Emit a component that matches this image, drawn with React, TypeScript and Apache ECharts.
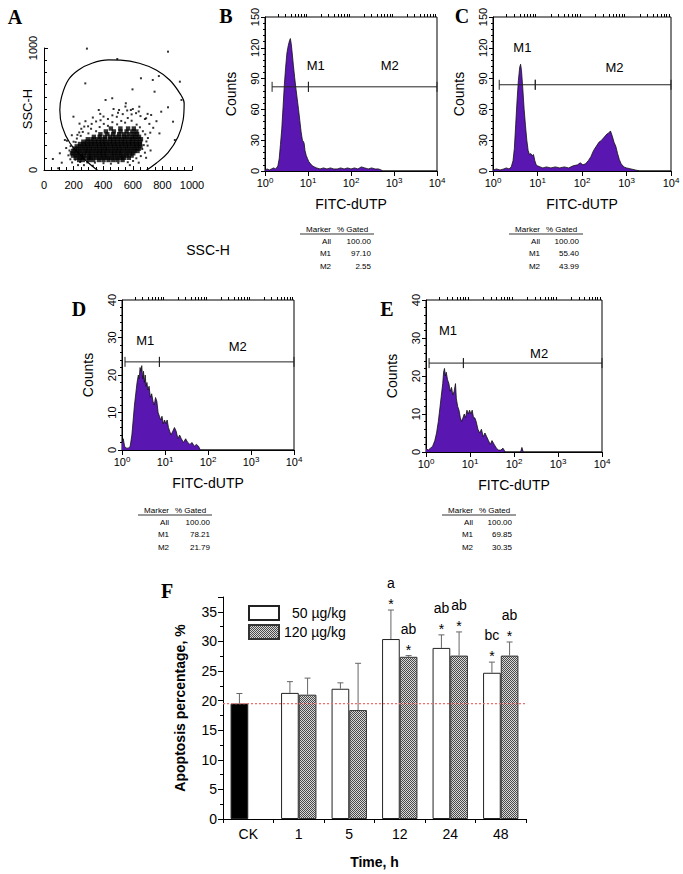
import React, { useEffect, useRef } from 'react';
import * as echarts from 'echarts';

const SANS = "'Liberation Sans', Arial, Helvetica, sans-serif";
const SERIF = "'Liberation Serif', 'Times New Roman', serif";

// ---------------- Panel A : SSC-H scatter ----------------
const scatterCoreRows: [number, number[]][] = [
  [82, [238, 262, 305, 333, 371, 402, 436, 468, 497, 531]],
  [100, [214, 243, 268, 297, 318, 349, 377, 406, 431, 458, 489, 516, 541, 573]],
  [118, [196, 222, 249, 271, 302, 326, 351, 379, 403, 428, 457, 482, 509, 534, 561, 592]],
  [137, [189, 216, 241, 268, 293, 317, 346, 372, 396, 421, 449, 474, 498, 523, 552, 578, 603]],
  [156, [197, 223, 247, 276, 299, 324, 352, 377, 401, 427, 452, 478, 503, 528, 556, 583, 611, 632]],
  [175, [206, 231, 258, 283, 308, 333, 358, 386, 411, 433, 461, 486, 511, 537, 562, 589, 614, 641]],
  [194, [221, 246, 272, 297, 322, 349, 373, 398, 424, 451, 476, 502, 526, 553, 577, 604, 628, 652]],
  [213, [243, 269, 293, 318, 344, 371, 396, 419, 446, 472, 497, 523, 548, 574, 598, 623, 647]],
  [232, [266, 291, 318, 343, 368, 393, 417, 444, 469, 494, 521, 546, 571, 596, 622, 649]],
  [252, [296, 327, 356, 386, 414, 446, 471, 498, 524, 549, 577, 601, 627, 655]],
  [272, [337, 376, 412, 448, 479, 507, 538, 563, 592, 616, 642]],
  [293, [381, 428, 467, 508, 541, 572, 603, 629]],
  [316, [418, 472, 517, 558, 597, 624]],
  [340, [452, 516, 568, 607]],
];
const scatterHalo: number[][] = [
  [165, 120], [178, 88], [190, 62], [172, 160], [180, 196], [200, 232], [222, 258], [188, 285], [248, 280], [262, 312],
  [300, 300], [318, 338], [352, 318], [376, 352], [404, 378], [432, 362], [462, 392], [494, 374], [522, 402], [548, 388],
  [566, 426], [592, 404], [626, 372], [648, 350], [668, 318], [684, 292], [702, 262], [692, 234], [674, 204], [664, 172],
  [682, 142], [654, 114], [624, 96], [602, 74], [566, 64], [502, 58], [452, 52], [402, 56], [344, 60], [292, 62],
  [244, 66], [212, 84], [718, 306], [738, 346], [712, 378], [682, 418], [652, 442], [622, 466], [592, 456], [562, 488],
  [532, 458], [492, 436], [462, 448], [432, 418], [402, 438], [382, 408], [352, 398], [322, 378], [298, 358], [272, 356],
  [252, 338], [238, 308], [226, 288], [214, 228], [150, 180], [155, 240], [700, 200], [720, 160], [690, 100], [640, 60],
  [580, 40], [330, 35], [270, 40], [230, 40], [760, 400], [780, 300], [600, 500], [640, 480], [700, 460], [500, 470],
  [550, 520], [470, 500], [380, 460], [330, 430], [280, 400], [240, 380],
];
const scatterSparse: number[][] = [
  [290, 995], [838, 970], [495, 910], [918, 724], [735, 738], [776, 770], [655, 752], [598, 661], [747, 642], [279, 710],
  [416, 574], [199, 437], [872, 396], [838, 514], [792, 478], [724, 451], [690, 424], [884, 246], [929, 574], [107, 137],
  [96, 14], [141, 246], [461, 588], [553, 547], [644, 519], [370, 492], [507, 492], [587, 492], [120, 60], [60, 90],
];
const gateOutline: number[][] = [
  [380, -20], [279, 82], [176, 219], [123, 355], [107, 492], [119, 601], [164, 738], [233, 820], [324, 875], [438, 902],
  [518, 900], [644, 875], [758, 820], [849, 738], [918, 628], [947, 546], [940, 410], [906, 273], [838, 143], [758, 55],
  [670, -20],
];

// ---------------- Histograms (x = log10 FITC-dUTP, y = counts) ----------------
const histBLog = [0, 0.05, 0.1, 0.15, 0.2, 0.25, 0.3, 0.33, 0.36, 0.39, 0.42, 0.45, 0.48, 0.51, 0.54, 0.57, 0.59, 0.61, 0.63, 0.66, 0.69, 0.72, 0.75, 0.78, 0.81, 0.84, 0.87, 0.89, 0.91, 0.93, 0.96, 0.99, 1.02, 1.06, 1.1, 1.15, 1.2, 1.28, 1.36, 1.44, 1.52, 1.6, 1.68, 1.76, 1.84, 1.92, 2.0, 2.08, 2.16, 2.24, 2.32, 2.4, 2.48, 2.56, 2.64, 2.7, 2.74, 4];
const histBCount = [1, 2, 1, 2, 3, 2, 5, 12, 26, 41, 62, 84, 101, 115, 122, 127, 129, 124, 116, 103, 91, 80, 70, 60, 49, 38, 30, 29, 27, 20, 15, 12, 9, 7, 5, 4, 3, 2, 3, 2, 3, 2, 2, 3, 2, 3, 2, 3, 2, 4, 3, 2, 3, 2, 2, 1, 0, 0];
const histCLog = [0, 0.08, 0.16, 0.24, 0.3, 0.36, 0.41, 0.45, 0.48, 0.51, 0.54, 0.57, 0.6, 0.62, 0.64, 0.67, 0.7, 0.73, 0.76, 0.79, 0.82, 0.85, 0.88, 0.91, 0.94, 0.97, 1.0, 1.06, 1.12, 1.2, 1.3, 1.4, 1.5, 1.6, 1.7, 1.8, 1.9, 1.96, 2.02, 2.08, 2.14, 2.2, 2.26, 2.32, 2.38, 2.44, 2.5, 2.56, 2.6, 2.64, 2.68, 2.72, 2.76, 2.8, 2.84, 2.88, 2.94, 3.0, 3.1, 3.2, 3.3, 4];
const histCCount = [1, 2, 1, 2, 3, 2, 4, 10, 22, 45, 68, 88, 101, 104, 98, 80, 60, 44, 30, 20, 16, 17, 15, 16, 10, 6, 5, 4, 3, 4, 3, 4, 3, 4, 3, 5, 6, 8, 6, 7, 10, 14, 20, 24, 28, 30, 33, 36, 37, 39, 34, 28, 24, 17, 11, 7, 4, 3, 2, 1, 0, 0];
const histDLog = [0, 0.03, 0.06, 0.1, 0.15, 0.19, 0.23, 0.26, 0.29, 0.32, 0.35, 0.38, 0.4, 0.42, 0.44, 0.46, 0.48, 0.5, 0.52, 0.54, 0.56, 0.58, 0.6, 0.63, 0.66, 0.69, 0.72, 0.75, 0.78, 0.81, 0.84, 0.87, 0.9, 0.93, 0.96, 0.99, 1.02, 1.05, 1.08, 1.11, 1.14, 1.18, 1.22, 1.26, 1.3, 1.34, 1.38, 1.43, 1.48, 1.53, 1.58, 1.63, 1.68, 1.73, 1.78, 1.82, 4];
const histDCount = [2, 3, 1, 0.5, 0.5, 1, 4, 8, 12, 15, 18, 20, 19, 22, 21, 22.5, 19, 21, 18, 20, 17, 18, 16, 17, 14, 15, 13, 12, 14, 13, 10, 9, 8, 9, 7, 8, 7, 8, 6, 5, 4, 5, 6, 5, 3, 4, 3, 2, 3, 2, 1.5, 2, 1, 1.5, 1, 0, 0];
const histELog = [0, 0.05, 0.1, 0.15, 0.2, 0.24, 0.28, 0.32, 0.35, 0.38, 0.4, 0.42, 0.44, 0.46, 0.49, 0.52, 0.55, 0.58, 0.61, 0.64, 0.67, 0.69, 0.72, 0.75, 0.78, 0.81, 0.84, 0.87, 0.9, 0.93, 0.96, 0.99, 1.02, 1.05, 1.08, 1.11, 1.14, 1.18, 1.22, 1.26, 1.3, 1.34, 1.38, 1.42, 1.46, 1.5, 1.55, 1.6, 1.65, 1.7, 1.75, 1.8, 2.15, 2.18, 2.21, 4];
const histECount = [1, 0.5, 1, 1.5, 3, 5, 8, 12, 15, 18, 21, 22, 20, 21, 19, 18, 16, 17, 15, 16, 18, 14, 12, 11, 9, 8, 9, 10, 9, 11, 10, 11, 10, 11, 9, 9, 8, 6, 5, 6, 4, 5, 4, 3, 2, 3, 2, 1, 0.5, 0.5, 1, 0, 0, 1.2, 0, 0];

const histTickLabels = ['0', '1', '2', '3', '4'];
const markerNames = ['M1', 'M2'];
// [start(log), end(log), level(counts), labelX(log), labelY(counts)]
const markersB = [[0.165, 1.01, 82, 1.18, 103], [1.01, 4, 82, 2.9, 103]];
const markersC = [[0.14, 0.95, 84, 0.66, 120], [0.95, 4, 84, 2.73, 101]];
const markersD = [[0.07, 0.87, 23.5, 0.54, 29.3], [0.87, 4, 23.5, 2.69, 27.5]];
const markersE = [[0.07, 0.85, 23.4, 0.5, 32], [0.85, 4, 23.4, 2.57, 25.8]];

const tableHeader = ['Marker', '% Gated'];
const tableBRows = [['All', '100.00'], ['M1', '97.10'], ['M2', '2.55']];
const tableCRows = [['All', '100.00'], ['M1', '55.40'], ['M2', '43.99']];
const tableDRows = [['All', '100.00'], ['M1', '78.21'], ['M2', '21.79']];
const tableERows = [['All', '100.00'], ['M1', '69.85'], ['M2', '30.35']];

// ---------------- Panel F ----------------
const timeCats = ['CK', '1', '5', '12', '24', '48'];
const mean50: (number | null)[] = [19.5, 21.3, 22.0, 30.4, 28.9, 24.7];
const sd50: (number | null)[] = [1.7, 1.9, 1.0, 4.9, 2.2, 1.8];
const mean120: (number | null)[] = [null, 21.0, 18.4, 27.4, 27.6, 27.6];
const sd120: (number | null)[] = [null, 2.8, 7.9, 0.2, 4.0, 2.3];
const star50 = ['', '', '', '*', '*', '*'];
const letter50 = ['', '', '', 'a', 'ab', 'bc'];
const star120 = ['', '', '', '*', '*', '*'];
const letter120 = ['', '', '', 'ab', 'ab', 'ab'];
const seriesNames = ['50 µg/kg', '120 µg/kg'];

const HIST_FILL = '#5a16b0';

function buildOption() {
  const hatch =
    "data:image/svg+xml;utf8," +
    encodeURIComponent(
      "<svg xmlns='http://www.w3.org/2000/svg' width='2' height='2'><rect width='2' height='2' fill='#d8d8d8'/><rect width='1' height='1' fill='#4a4a4a'/><rect x='1' y='1' width='1' height='1' fill='#4a4a4a'/></svg>"
    );
  const hatchColor: any = { image: hatch, repeat: 'repeat', imageWidth: 2, imageHeight: 2 };

  const coreData: number[][] = [];
  scatterCoreRows.forEach(([y, xs]) => xs.forEach((x) => coreData.push([x, y])));

  const logMinor: number[] = [];
  for (let d = 0; d < 4; d++) for (let k = 2; k <= 9; k++) logMinor.push(d + Math.log10(k));

  const grids = [
    { left: 44, top: 48, width: 148, height: 122 },
    { left: 265, top: 17, width: 172, height: 154, show: true, borderColor: '#000', borderWidth: 1 },
    { left: 493, top: 17, width: 178, height: 154, show: true, borderColor: '#000', borderWidth: 1 },
    { left: 122, top: 300, width: 172, height: 150, show: true, borderColor: '#000', borderWidth: 1 },
    { left: 426, top: 300, width: 176, height: 152, show: true, borderColor: '#000', borderWidth: 1 },
    { left: 223, top: 597, width: 303, height: 222 },
  ];

  const axisLine = { show: true, lineStyle: { color: '#000', width: 1 } };

  const histX = (g: number) => [
    {
      type: 'value', gridIndex: g, min: 0, max: 4, interval: 1,
      axisLine, splitLine: { show: false },
      axisTick: { show: true, length: 5, lineStyle: { color: '#000' } },
      axisLabel: {
        color: '#000', margin: 5,
        formatter: (v: number) => '{b|10}{s|' + histTickLabels[Math.round(v)] + '}',
        rich: {
          b: { fontSize: 11, fontFamily: SANS, color: '#000' },
          s: { fontSize: 8, fontFamily: SANS, color: '#000', padding: [0, 0, 6, 0] },
        },
      },
      name: 'FITC-dUTP', nameLocation: 'middle', nameGap: 26,
      nameTextStyle: { fontSize: 14, fontFamily: SANS, color: '#000' },
    },
    {
      type: 'value', gridIndex: g, min: 0, max: 4, interval: 1,
      axisLine: { show: false }, splitLine: { show: false }, axisLabel: { show: false },
      axisTick: { show: true, length: 3, customValues: logMinor, lineStyle: { color: '#000' } },
    },
  ];

  const histY = (g: number, max: number, interval: number) => ({
    type: 'value', gridIndex: g, min: 0, max, interval,
    axisLine, splitLine: { show: false },
    axisTick: { show: true, length: 4, lineStyle: { color: '#000' } },
    minorTick: { show: true, splitNumber: 5, length: 2, lineStyle: { color: '#000' } },
    axisLabel: { rotate: 90, fontSize: 11, fontFamily: SANS, color: '#000', margin: 5 },
    name: 'Counts', nameLocation: 'middle', nameGap: 27,
    nameTextStyle: { fontSize: 14, fontFamily: SANS, color: '#000' },
  });

  const histSeries = (xi: number, yi: number, logs: number[], counts: number[]) => ({
    type: 'line', xAxisIndex: xi, yAxisIndex: yi, silent: true,
    data: logs.map((x, i) => [x, counts[i]]),
    symbol: 'none', lineStyle: { color: '#111', width: 0.8 },
    areaStyle: { color: HIST_FILL, opacity: 1 },
  });

  const markerSeries = (xi: number, yi: number, items: number[][]) => ({
    type: 'custom', xAxisIndex: xi, yAxisIndex: yi, silent: true, z: 5,
    data: items, encode: { x: [0, 1, 3], y: [2, 4] },
    renderItem: (params: any, api: any) => {
      const a = api.coord([api.value(0), api.value(2)]);
      const b = api.coord([api.value(1), api.value(2)]);
      const l = api.coord([api.value(3), api.value(4)]);
      const st = { stroke: '#222', lineWidth: 1 };
      return {
        type: 'group',
        children: [
          { type: 'line', shape: { x1: a[0], y1: a[1], x2: b[0], y2: b[1] }, style: st },
          { type: 'line', shape: { x1: a[0], y1: a[1] - 5, x2: a[0], y2: a[1] + 5 }, style: st },
          { type: 'line', shape: { x1: b[0], y1: b[1] - 5, x2: b[0], y2: b[1] + 5 }, style: st },
          {
            type: 'text', x: l[0], y: l[1],
            style: { text: markerNames[params.dataIndex], font: '13px ' + SANS, fill: '#000', align: 'center', verticalAlign: 'middle' },
          },
        ],
      };
    },
  });

  const errData: number[][] = [];
  timeCats.forEach((_, i) => {
    if (mean50[i] != null) errData.push([i, (mean50[i] as number) + (sd50[i] as number), mean50[i] as number, 0]);
    if (mean120[i] != null) errData.push([i, (mean120[i] as number) + (sd120[i] as number), mean120[i] as number, 1]);
  });

  const textEl = (text: string, x: number, y: number, font: string, align = 'left', vAlign = 'middle') => ({
    type: 'text', x, y, silent: true,
    style: { text, font, fill: '#000', align, verticalAlign: vAlign },
  });

  const tableEls = (x0: number, y0: number, rows: string[][], valRight: number) => {
    const f = '8px ' + SANS;
    const els: any[] = [
      textEl(tableHeader[0], x0 + 31, y0, f, 'right'),
      textEl(tableHeader[1], x0 + 37, y0, f, 'left'),
      { type: 'line', silent: true, shape: { x1: x0, y1: y0 + 5, x2: x0 + 74, y2: y0 + 5 }, style: { stroke: '#000', lineWidth: 0.8 } },
    ];
    rows.forEach((r, i) => {
      els.push(textEl(r[0], x0 + 31, y0 + 12 + i * 12.8, f, 'right'));
      els.push(textEl(r[1], x0 + valRight, y0 + 12 + i * 12.8, f, 'right'));
    });
    return els;
  };

  const letterFont = 'bold 20px ' + SERIF;

  return {
    animation: false,
    backgroundColor: '#fff',
    grid: grids,
    legend: {
      show: true, data: seriesNames, orient: 'vertical', left: 243, top: 600, icon: 'rect',
      itemWidth: 30, itemHeight: 14, itemGap: 3, selectedMode: false,
      textStyle: { fontSize: 14, fontFamily: SANS, color: '#000', rich: { p: { width: 8 } } },
      formatter: (n: string) => (n === seriesNames[0] ? '{p|}' + n : n),
    },
    xAxis: [
      {
        type: 'value', gridIndex: 0, min: 0, max: 1000, interval: 200,
        axisLine, splitLine: { show: false },
        axisTick: { show: true, inside: true, length: 4, lineStyle: { color: '#000' } },
        minorTick: { show: true, splitNumber: 4, length: 3, lineStyle: { color: '#000' } },
        axisLabel: { fontSize: 11, fontFamily: SANS, color: '#000', margin: 9, formatter: (v: number) => String(v) },
      },
      ...histX(1),
      ...histX(2),
      ...histX(3),
      ...histX(4),
      {
        type: 'category', gridIndex: 5, data: timeCats,
        axisLine, axisTick: { show: true, length: 4, lineStyle: { color: '#000' } },
        axisLabel: { fontSize: 14, fontFamily: SANS, color: '#000', margin: 8 },
        name: 'Time, h', nameLocation: 'middle', nameGap: 36,
        nameTextStyle: { fontSize: 14, fontWeight: 'bold', fontFamily: SANS, color: '#000' },
      },
      {
        type: 'value', gridIndex: 5, min: 0, max: 1, show: false,
      },
    ],
    yAxis: [
      {
        type: 'value', gridIndex: 0, min: 0, max: 1000, interval: 1000,
        axisLine, splitLine: { show: false },
        axisTick: { show: true, inside: true, length: 4, lineStyle: { color: '#000' } },
        minorTick: { show: true, splitNumber: 10, length: 3, lineStyle: { color: '#000' } },
        axisLabel: { rotate: 90, fontSize: 11, fontFamily: SANS, color: '#000', margin: 6, formatter: (v: number) => String(v) },
        name: 'SSC-H', nameLocation: 'middle', nameGap: 10, nameMoveOverlap: false,
        nameTextStyle: { fontSize: 13, fontFamily: SANS, color: '#000' },
      },
      histY(1, 150, 30),
      histY(2, 150, 30),
      histY(3, 40, 10),
      histY(4, 40, 10),
      {
        type: 'value', gridIndex: 5, min: 0, max: 37.5, interval: 5,
        axisLine, splitLine: { show: false },
        axisTick: { show: true, length: 5, lineStyle: { color: '#000' } },
        minorTick: { show: true, splitNumber: 2, length: 3, lineStyle: { color: '#000' } },
        axisLabel: { fontSize: 14, fontFamily: SANS, color: '#000', margin: 6, showMaxLabel: false },
        name: 'Apoptosis percentage, %', nameLocation: 'middle', nameGap: 36,
        nameTextStyle: { fontSize: 14, fontWeight: 'bold', fontFamily: SANS, color: '#000' },
      },
    ],
    series: [
      { type: 'scatter', xAxisIndex: 0, yAxisIndex: 0, silent: true, data: coreData, symbol: 'rect', symbolSize: 4.4, itemStyle: { color: '#000' } },
      { type: 'scatter', xAxisIndex: 0, yAxisIndex: 0, silent: true, data: scatterHalo, symbol: 'rect', symbolSize: 2, itemStyle: { color: '#000' } },
      { type: 'scatter', xAxisIndex: 0, yAxisIndex: 0, silent: true, data: scatterSparse, symbol: 'rect', symbolSize: 2, itemStyle: { color: '#000' } },
      {
        type: 'line', xAxisIndex: 0, yAxisIndex: 0, silent: true, data: gateOutline, smooth: 0.4,
        symbol: 'none', lineStyle: { color: '#000', width: 1.2 }, clip: true,
      },
      histSeries(1, 1, histBLog, histBCount),
      markerSeries(1, 1, markersB),
      histSeries(3, 2, histCLog, histCCount),
      markerSeries(3, 2, markersC),
      histSeries(5, 3, histDLog, histDCount),
      markerSeries(5, 3, markersD),
      histSeries(7, 4, histELog, histECount),
      markerSeries(7, 4, markersE),
      {
        type: 'bar', name: seriesNames[0], xAxisIndex: 9, yAxisIndex: 5, silent: true,
        barWidth: '35%', barGap: '0%',
        data: mean50.map((v, i) => (i === 0 ? { value: v, itemStyle: { color: '#000' } } : v)),
        itemStyle: { color: '#fff', borderColor: '#222', borderWidth: 1 },
      },
      {
        type: 'bar', name: seriesNames[1], xAxisIndex: 9, yAxisIndex: 5, silent: true,
        barWidth: '35%', barGap: '0%',
        data: mean120.map((v) => (v == null ? '-' : v)),
        itemStyle: { color: hatchColor, borderColor: '#333', borderWidth: 1 },
      },
      {
        type: 'line', xAxisIndex: 10, yAxisIndex: 5, silent: true, z: 4,
        data: [[0, mean50[0]], [1, mean50[0]]], symbol: 'none',
        lineStyle: { color: '#f26d6d', type: [2, 2], width: 1.2 },
      },
      {
        type: 'custom', xAxisIndex: 9, yAxisIndex: 5, silent: true, z: 6,
        data: errData, encode: { x: 0, y: [1, 2] },
        renderItem: (params: any, api: any) => {
          const cat = api.value(0);
          const which = api.value(3);
          const band = api.size([1, 0])[0];
          const base = api.coord([cat, api.value(2)]);
          const tp = api.coord([cat, api.value(1)]);
          const x = base[0] + (which === 0 ? -1 : 1) * band * 0.175;
          const st = { stroke: '#666', lineWidth: 1 };
          const star = which === 0 ? star50[cat] : star120[cat];
          const letter = which === 0 ? letter50[cat] : letter120[cat];
          return {
            type: 'group',
            children: [
              { type: 'line', shape: { x1: x, y1: base[1], x2: x, y2: tp[1] }, style: st },
              { type: 'line', shape: { x1: x - 3, y1: tp[1], x2: x + 3, y2: tp[1] }, style: st },
              { type: 'text', x, y: tp[1] - 6, style: { text: star, font: '14px ' + SANS, fill: '#000', align: 'center', verticalAlign: 'middle' } },
              { type: 'text', x, y: tp[1] - 27, style: { text: letter, font: '14px ' + SANS, fill: '#000', align: 'center', verticalAlign: 'middle' } },
            ],
          };
        },
      },
    ],
    graphic: [
      textEl('A', 15, 17, letterFont, 'center'),
      textEl('B', 226, 16, letterFont, 'center'),
      textEl('C', 462, 16, letterFont, 'center'),
      textEl('D', 79, 309, letterFont, 'center'),
      textEl('E', 387, 309, letterFont, 'center'),
      textEl('F', 167, 591, letterFont, 'center'),
      textEl('SSC-H', 208, 250, '14px ' + SANS, 'center'),
      ...tableEls(300, 229, tableBRows, 71),
      ...tableEls(509, 229, tableCRows, 70),
      ...tableEls(138, 510, tableDRows, 72),
      ...tableEls(442, 510, tableERows, 70),
    ],
  };
}

export default function App() {
  const ref = useRef<HTMLDivElement>(null);
  useEffect(() => {
    if (!ref.current) return;
    const chart = echarts.init(ref.current, undefined, { renderer: 'svg' });
    chart.setOption(buildOption() as any);
    return () => chart.dispose();
  }, []);
  return (
    <div
      ref={ref}
      style={{ position: 'absolute', left: 0, top: 0, width: 683, height: 874, background: '#fff' }}
    />
  );
}
